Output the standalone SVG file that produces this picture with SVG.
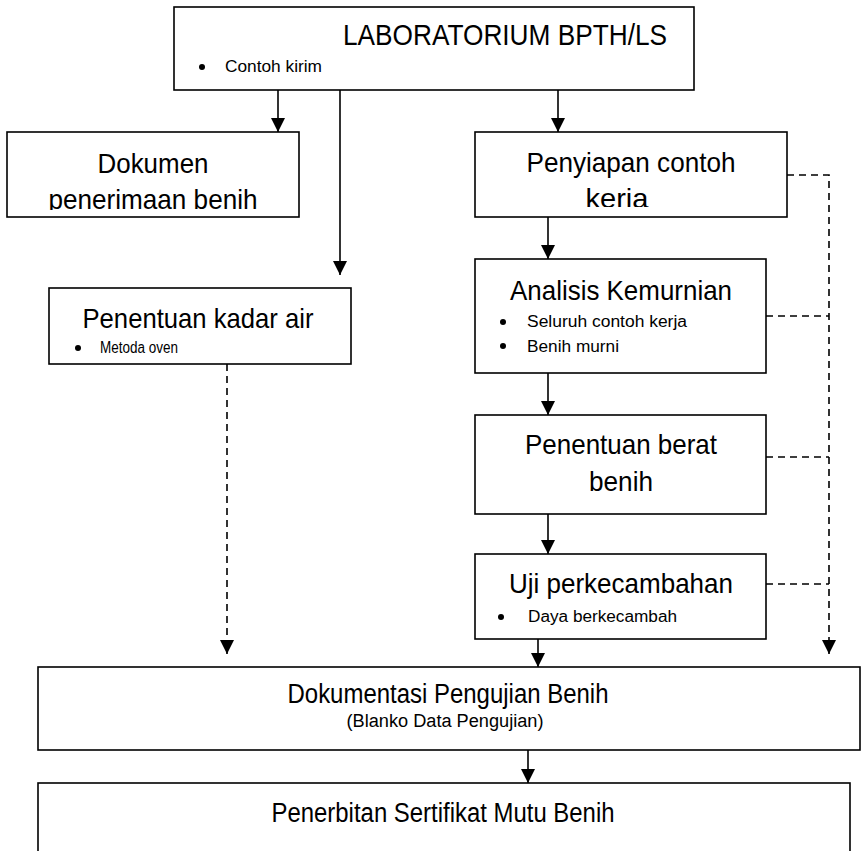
<svg xmlns="http://www.w3.org/2000/svg" width="865" height="851" viewBox="0 0 865 851">
<style>
.box{fill:#fff;stroke:#000;stroke-width:1.6}
.t{font-family:"Liberation Sans Narrow","Liberation Sans",Arial,sans-serif;fill:#000}
.h{font-size:28px;text-anchor:middle}
.s{font-size:16px}
.ln{fill:none;stroke:#000;stroke-width:1.6}
.dash{stroke-dasharray:7 5}
.dot{fill:#000}
</style>
<defs>
<marker id="ah" markerUnits="userSpaceOnUse" markerWidth="14" markerHeight="14" refX="14" refY="7" orient="auto">
<path d="M0,0 L14,7 L0,14 z" style="fill:#000;stroke:none"/>
</marker>
<clipPath id="c1"><rect x="7" y="132" width="292" height="78"/></clipPath>
<clipPath id="c2"><rect x="475" y="132" width="312" height="75"/></clipPath>
</defs>
<g id="connectors">
<line class="ln" x1="278" y1="90" x2="278" y2="132" marker-end="url(#ah)"/>
<line class="ln" x1="340" y1="90" x2="340" y2="275" marker-end="url(#ah)"/>
<line class="ln" x1="558" y1="90" x2="558" y2="132" marker-end="url(#ah)"/>
<line class="ln" x1="548" y1="217" x2="548" y2="259" marker-end="url(#ah)"/>
<line class="ln" x1="548" y1="373" x2="548" y2="415" marker-end="url(#ah)"/>
<line class="ln" x1="548" y1="514" x2="548" y2="554" marker-end="url(#ah)"/>
<line class="ln" x1="538" y1="639" x2="538" y2="667" marker-end="url(#ah)"/>
<line class="ln" x1="528" y1="750" x2="528" y2="783" marker-end="url(#ah)"/>
<line class="ln dash" x1="227" y1="364" x2="227" y2="654" marker-end="url(#ah)"/>
<polyline class="ln dash" points="787,175 829,175 829,654" marker-end="url(#ah)"/>
<line class="ln dash" x1="766" y1="316" x2="829" y2="316"/>
<line class="ln dash" x1="766" y1="457" x2="829" y2="457"/>
<line class="ln dash" x1="766" y1="584" x2="829" y2="584"/>
</g>
<g id="lab">
<rect class="box" x="174" y="7" width="520" height="83"/>
<text class="t" x="505" y="45" font-size="30" text-anchor="middle" textLength="324" lengthAdjust="spacingAndGlyphs">LABORATORIUM BPTH/LS</text>
<circle class="dot" cx="202" cy="67" r="3"/>
<text class="t s" x="225" y="72" textLength="97" lengthAdjust="spacingAndGlyphs">Contoh kirim</text>
</g>
<g id="dokumen">
<rect class="box" x="7" y="132" width="292" height="85"/>
<text class="t h" x="153" y="173" textLength="111" lengthAdjust="spacingAndGlyphs">Dokumen</text>
<text class="t h" x="153" y="209" textLength="209" lengthAdjust="spacingAndGlyphs" clip-path="url(#c1)">penerimaan benih</text>
</g>
<g id="penyiapan">
<rect class="box" x="475" y="132" width="312" height="85"/>
<text class="t h" x="631" y="172" textLength="209" lengthAdjust="spacingAndGlyphs">Penyiapan contoh</text>
<text class="t h" x="617" y="208" textLength="63" lengthAdjust="spacingAndGlyphs" clip-path="url(#c2)">keria</text>
</g>
<g id="kadar-air">
<rect class="box" x="49" y="288" width="302" height="76"/>
<text class="t h" x="198" y="328" textLength="231" lengthAdjust="spacingAndGlyphs">Penentuan kadar air</text>
<circle class="dot" cx="78" cy="348" r="3"/>
<text class="t s" x="100" y="353" textLength="78" lengthAdjust="spacingAndGlyphs">Metoda oven</text>
</g>
<g id="analisis">
<rect class="box" x="475" y="259" width="291" height="114"/>
<text class="t h" x="621" y="300" textLength="222" lengthAdjust="spacingAndGlyphs">Analisis Kemurnian</text>
<circle class="dot" cx="503" cy="322" r="3"/>
<text class="t s" x="527" y="327" textLength="160" lengthAdjust="spacingAndGlyphs">Seluruh contoh kerja</text>
<circle class="dot" cx="503" cy="346" r="3"/>
<text class="t s" x="527" y="352" textLength="92" lengthAdjust="spacingAndGlyphs">Benih murni</text>
</g>
<g id="berat">
<rect class="box" x="475" y="415" width="291" height="99"/>
<text class="t h" x="621" y="454" textLength="192" lengthAdjust="spacingAndGlyphs">Penentuan berat</text>
<text class="t h" x="621" y="491" textLength="64" lengthAdjust="spacingAndGlyphs">benih</text>
</g>
<g id="uji">
<rect class="box" x="475" y="554" width="291" height="85"/>
<text class="t h" x="621" y="593" textLength="224" lengthAdjust="spacingAndGlyphs">Uji perkecambahan</text>
<circle class="dot" cx="501" cy="617" r="3"/>
<text class="t s" x="528" y="622" textLength="149" lengthAdjust="spacingAndGlyphs">Daya berkecambah</text>
</g>
<g id="dokumentasi">
<rect class="box" x="38" y="667" width="822" height="83"/>
<text class="t" x="448" y="703" font-size="27" text-anchor="middle" textLength="321" lengthAdjust="spacingAndGlyphs">Dokumentasi Pengujian Benih</text>
<text class="t" x="445" y="727" font-size="18" text-anchor="middle" textLength="197" lengthAdjust="spacingAndGlyphs">(Blanko Data Pengujian)</text>
</g>
<g id="penerbitan">
<rect class="box" x="38" y="783" width="812" height="80"/>
<text class="t" x="443" y="822" font-size="27" text-anchor="middle" textLength="343" lengthAdjust="spacingAndGlyphs">Penerbitan Sertifikat Mutu Benih</text>
</g>
</svg>
